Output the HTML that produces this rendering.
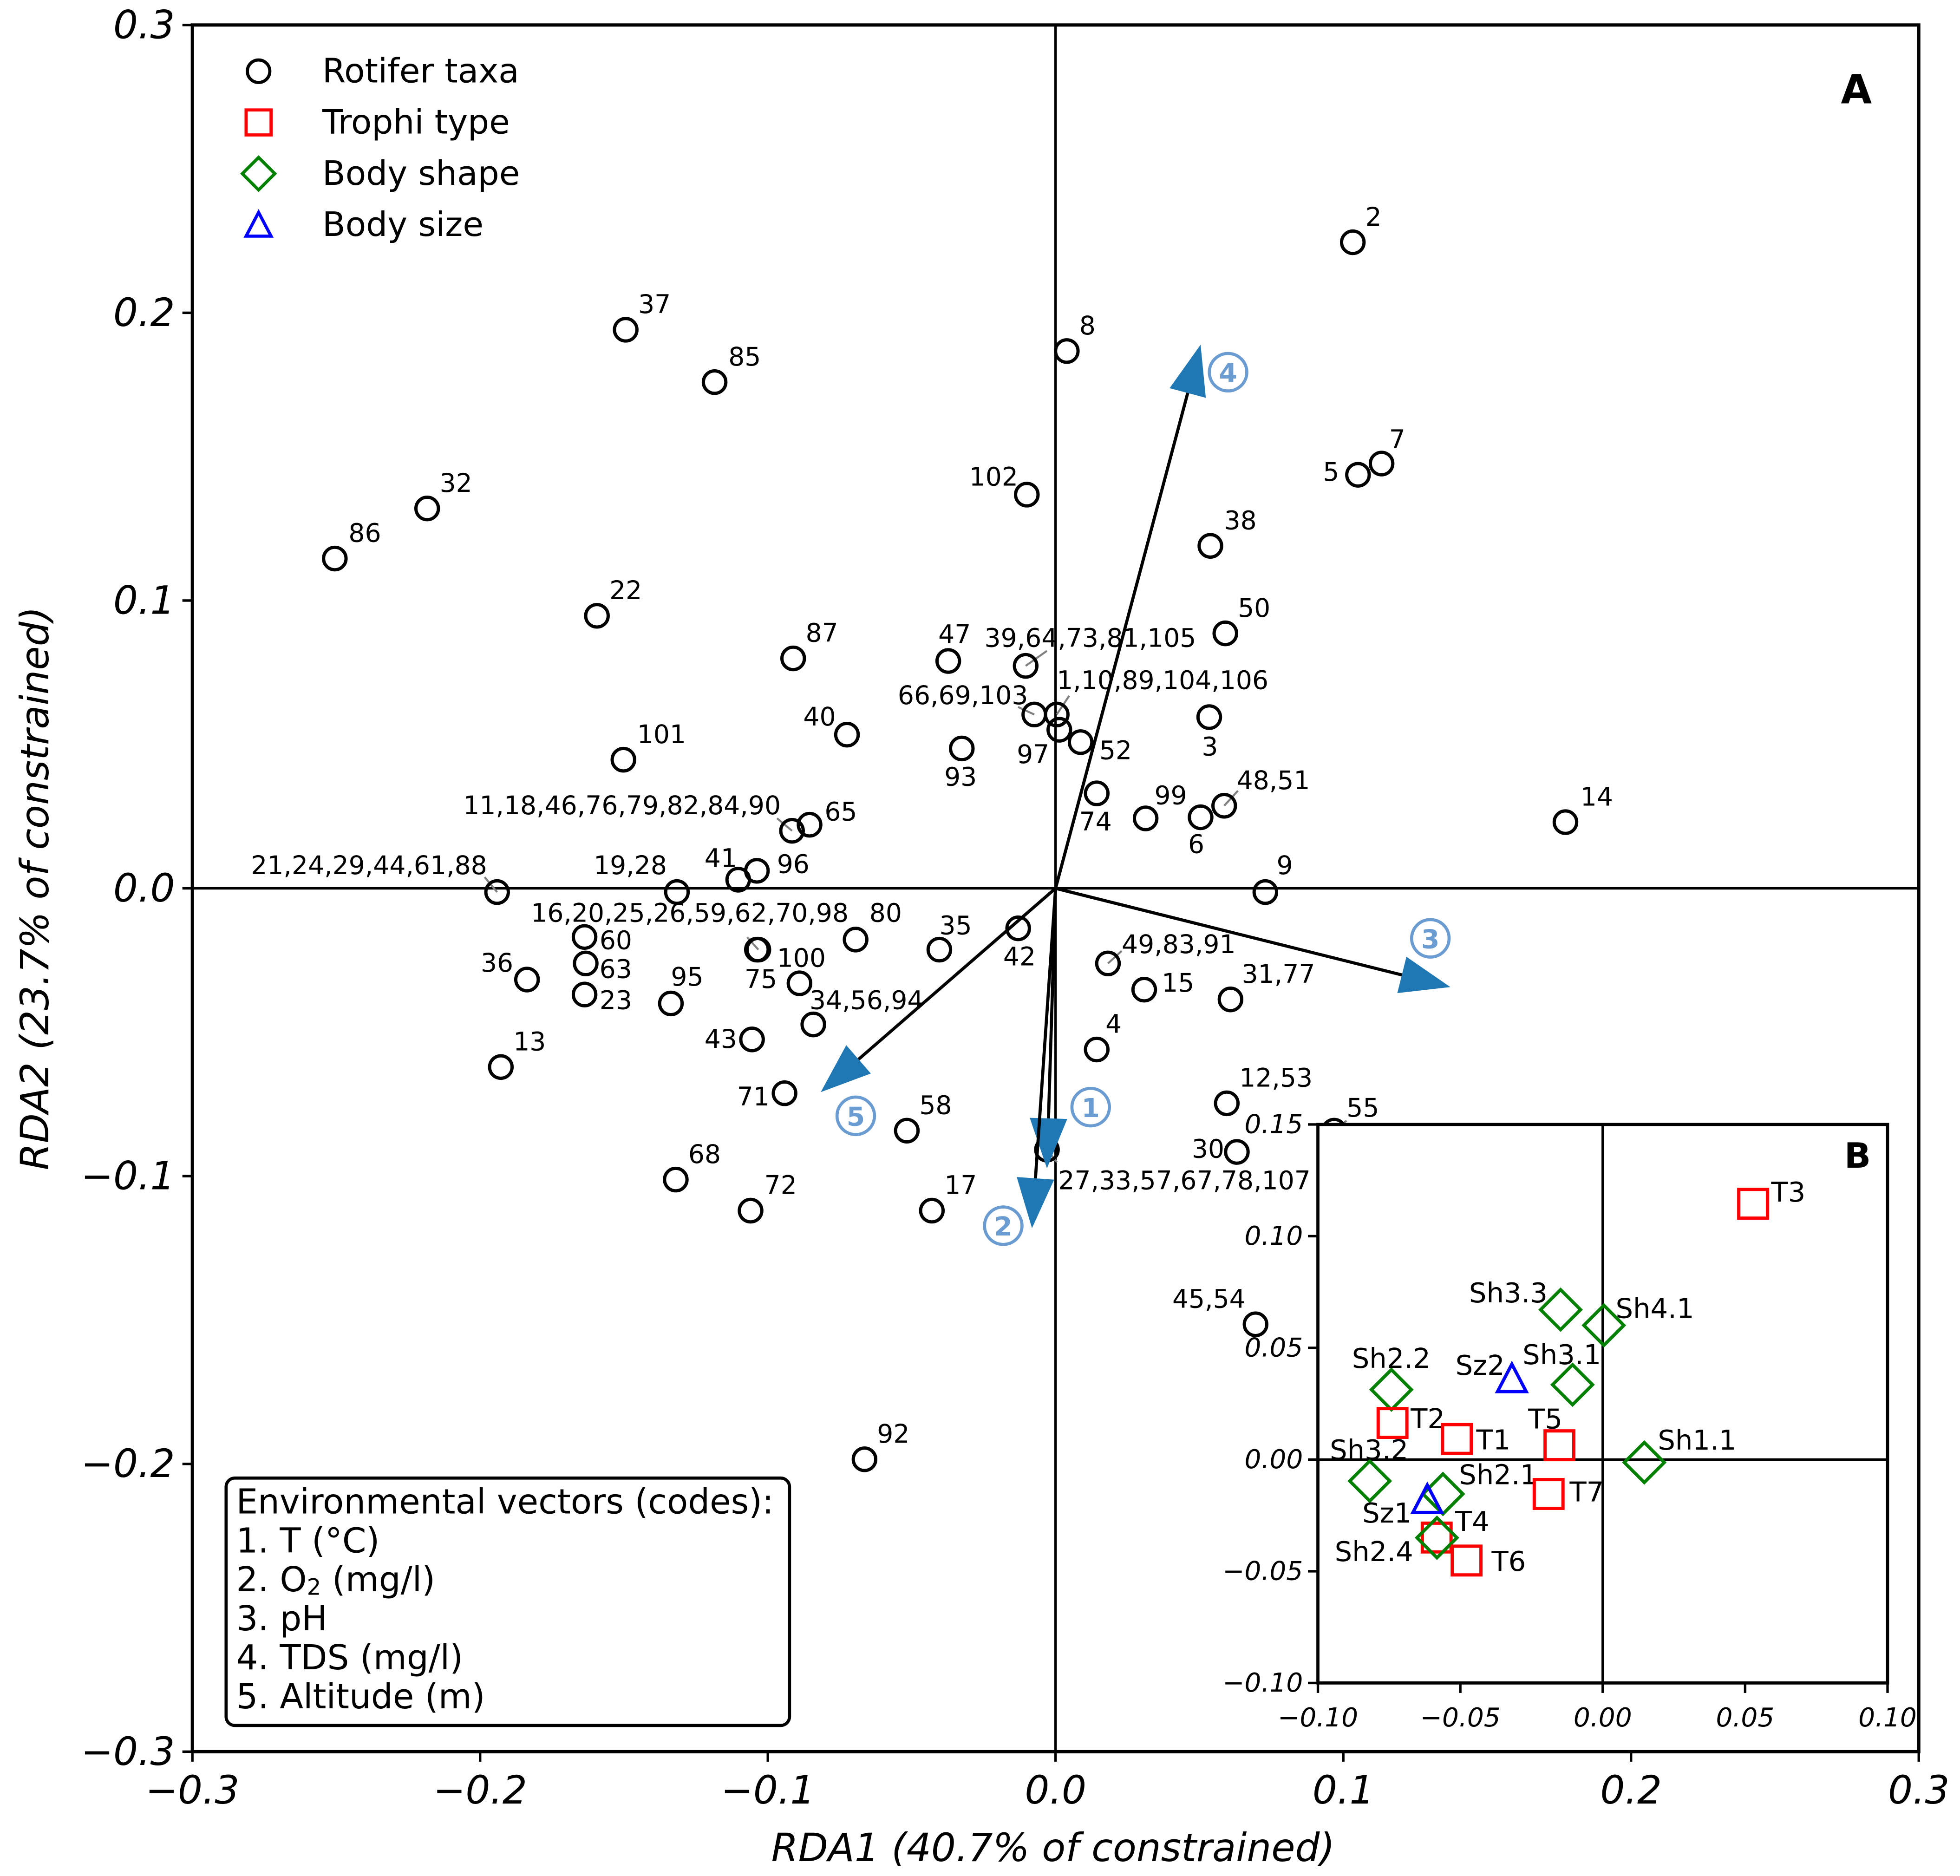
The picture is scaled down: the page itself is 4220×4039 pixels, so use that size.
<!DOCTYPE html>
<html><head><meta charset="utf-8"><style>
html,body{margin:0;padding:0;background:#fff}
svg{display:block}
text{font-family:"DejaVu Sans","Liberation Sans",sans-serif}
</style></head><body>
<svg id="chart" xmlns="http://www.w3.org/2000/svg" width="4220" height="4039" viewBox="0 0 1569 1501.5" preserveAspectRatio="none">
<rect x="0" y="0" width="1569" height="1502" fill="#fff"/>
<g id="main"></g>
<g id="inset"></g>
</svg>
<script>
// ---- main plot data ----
const taxaLabels=["2","37","85","8","7","5","102","32","38","86","22","50","87","47","39,64,73,81,105","66,69,103","1,10,89,104,106","3","40","97","93","52","101","74","99","6","48,51","14","65","11,18,46,76,79,82,84,90","96","41","19,28","21,24,29,44,61,88","9","42","80","16,20,25,26,59,62,70,98","60","100","35","63","49,83,91","36","75","23","15","31,77","95","34,56,94","43","4","13","12,53","71","58","55","27,33,57,67,78,107","30","68","72","17","45,54","92"];
const taxaX=[0.1033,-0.1494,-0.1185,0.0039,0.1133,0.1051,-0.0100,-0.2184,0.0538,-0.2505,-0.1594,0.0590,-0.0912,-0.0373,-0.0104,-0.0074,0.0004,0.0534,-0.0725,0.0013,-0.0326,0.0087,-0.1502,0.0143,0.0313,0.0504,0.0586,0.1772,-0.0855,-0.0916,-0.1038,-0.1103,-0.1316,-0.1941,0.0729,-0.0130,-0.0695,-0.1033,-0.1637,-0.1038,-0.0404,-0.1633,0.0182,-0.1837,-0.0890,-0.1637,0.0308,0.0608,-0.1337,-0.0842,-0.1055,0.0143,-0.1928,0.0595,-0.0942,-0.0517,0.0968,-0.0030,0.0630,-0.1320,-0.1060,-0.0430,0.0695,-0.0664];
const taxaY=[0.2245,0.1941,0.1759,0.1867,0.1476,0.1437,0.1368,0.1320,0.1190,0.1146,0.0947,0.0886,0.0799,0.0790,0.0773,0.0604,0.0604,0.0595,0.0534,0.0551,0.0486,0.0508,0.0447,0.0330,0.0243,0.0247,0.0287,0.0230,0.0221,0.0200,0.0061,0.0030,-0.0013,-0.0013,-0.0013,-0.0139,-0.0178,-0.0213,-0.0169,-0.0213,-0.0213,-0.0261,-0.0261,-0.0317,-0.0330,-0.0369,-0.0352,-0.0386,-0.0400,-0.0473,-0.0525,-0.0560,-0.0621,-0.0747,-0.0712,-0.0842,-0.0842,-0.0908,-0.0916,-0.1012,-0.1120,-0.1120,-0.1515,-0.1984];
const xTicks=[-0.3,-0.2,-0.1,0.0,0.1,0.2,0.3];
const yTicks=[-0.3,-0.2,-0.1,0.0,0.1,0.2,0.3];
const xTickLabels=["\u22120.3","\u22120.2","\u22120.1","0.0","0.1","0.2","0.3"];
const yTickLabels=["\u22120.3","\u22120.2","\u22120.1","0.0","0.1","0.2","0.3"];
const vecIds=["1","2","3","4","5"];
const vecX=[-0.0030,-0.0082,0.1372,0.0504,-0.0816];
const vecY=[-0.0973,-0.1181,-0.0343,0.1889,-0.0708];
// ---- inset data ----
const insLabels=["T3","Sh3.3","Sh4.1","Sz2","Sh3.1","Sh2.2","T2","T1","T5","Sh1.1","Sh3.2","Sh2.1","Sz1","T7","T4","Sh2.4","T6"];
const insTypes=["t","s","s","z","s","s","t","t","t","s","s","s","z","t","t","s","t"];
const insX=[0.0528,-0.0148,0.0004,-0.0319,-0.0106,-0.0742,-0.0738,-0.0512,-0.0152,0.0146,-0.0818,-0.0561,-0.0616,-0.0190,-0.0583,-0.0582,-0.0478];
const insY=[0.1145,0.0671,0.0601,0.0360,0.0335,0.0313,0.0164,0.0092,0.0064,-0.0013,-0.0096,-0.0154,-0.0181,-0.0154,-0.0349,-0.0350,-0.0452];
const insXTicks=[-0.10,-0.05,0.00,0.05,0.10];
const insYTicks=[-0.10,-0.05,0.00,0.05,0.10,0.15];
const insXTickLabels=["\u22120.10","\u22120.05","0.00","0.05","0.10"];
const insYTickLabels=["\u22120.10","\u22120.05","0.00","0.05","0.10","0.15"];

// ---- layout (not data) ----
const labOff=[[10,-20],[10,-20],[11,-20],[10,-20],[6,-19],[-15,-2,'e'],[-7,-14,'e'],[10,-20],[11,-20],[11,-20],[10,-20],[10,-20],[10,-20],[-8,-21],[-33,-22],[-5,-15,'e'],[0,-27],[-6,24],[-35,-14],[-8,20,'e'],[-14,23],[15,7],[11,-20],[-14,23],[7,-18],[-10,22],[10,-20],[12,-20],[12,-10],[-9,-20,'e'],[16,-5],[-27,-17],[-8,-21,'e'],[-8,-21,'e'],[9,-21],[-12,23],[11,-21],[-182,-29],[12,3],[16,7],[0,-19],[11,5],[11,-15],[-11,-13,'e'],[-44,-3],[12,5],[14,-5],[9,-20],[0,-21],[-3,-19],[-12,0,'e'],[7,-20],[10,-20],[10,-20],[-12,3,'e'],[10,-20],[10,-18],[9,25],[-10,-2,'e'],[10,-20],[11,-20],[10,-20],[-8,-20,'e'],[10,-20]];
const leaders={"39,64,73,81,105":[17,-12],"66,69,103":[-13,-6],"1,10,89,104,106":[10,-15],"48,51":[11,-12],"11,18,46,76,79,82,84,90":[-12,-10],"21,24,29,44,61,88":[-10,-12],"16,20,25,26,59,62,70,98":[-9,-10],"49,83,91":[11,-10],"55":[10,-8],"27,33,57,67,78,107":[8,10]};
const vecLabOff=[[35,-49],[-23,-2],[-16,-39],[22,22],[28,19]];
const insOff=[[14.5,-9.4],[-10.4,-13.5,'e'],[9.4,-13.5],[-5.7,-11,'e'],[-40,-24],[-31.6,-25],[14.5,-3.4],[15.5,0.7],[-25,-21],[10.8,-18],[-32,-25],[12.8,-15.5],[-12.5,10.4,'e'],[16.8,-1.7],[14.8,-13],[-19,11,'e'],[20,0.7]];

const NS="http://www.w3.org/2000/svg";
function mk(tag,attrs,parent,txt){const e=document.createElementNS(NS,tag);for(const k in attrs)e.setAttribute(k,attrs[k]);if(txt!==undefined)e.textContent=txt;parent.appendChild(e);return e;}
const L=154,R=1536,T=20,B=1402;
const sx=v=>845+(v)*(R-L)/0.6;
const sy=v=>711-(v)*(B-T)/0.6;
const main=document.getElementById('main');

let e=mk('line',{x1:sx(0),x2:sx(0),y1:T,y2:B,stroke:'#000','stroke-width':2},main);


e=mk('line',{x1:L,x2:R,y1:sy(0),y2:sy(0),stroke:'#000','stroke-width':2},main);



xTicks.forEach((v,i)=>{
  mk('line',{x1:sx(v),x2:sx(v),y1:B,y2:B+8,stroke:'#000','stroke-width':2},main);
  const t=mk('text',{x:sx(v),y:B+31,'text-anchor':'middle','font-size':31,'font-style':'italic','dominant-baseline':'central'},main,xTickLabels[i]);
  
  
});
yTicks.forEach((v,i)=>{
  mk('line',{x1:L-8,x2:L,y1:sy(v),y2:sy(v),stroke:'#000','stroke-width':2},main);
  const t=mk('text',{x:L-14,y:sy(v),'text-anchor':'end','font-size':31,'font-style':'italic','dominant-baseline':'central'},main,yTickLabels[i]);
  
  
});
e=mk('text',{x:843,y:1479,'text-anchor':'middle','font-size':31,'font-style':'italic','dominant-baseline':'central'},main,'RDA1 (40.7% of constrained)');


e=mk('text',{x:28,y:711,'text-anchor':'middle','font-size':31,'font-style':'italic','dominant-baseline':'central',transform:'rotate(-90 28 711)'},main,'RDA2 (23.7% of constrained)');



taxaLabels.forEach((lab,i)=>{
  const px=sx(taxaX[i]),py=sy(taxaY[i]);
  if(leaders[lab]){const l=leaders[lab];const ln=mk('line',{x1:px,y1:py,x2:px+l[0],y2:py+l[1],stroke:'#808080','stroke-width':1.6},main);
    
    }
});
taxaLabels.forEach((lab,i)=>{
  const px=sx(taxaX[i]),py=sy(taxaY[i]);
  const c=mk('circle',{cx:px,cy:py,r:9,fill:'none',stroke:'#000','stroke-width':2.6},main);
  
  
  const o=labOff[i];
  const t=mk('text',{x:px+o[0],y:py+o[1],'text-anchor':o[2]==='e'?'end':'start','font-size':20.5,'dominant-baseline':'central'},main,lab);
  
  
});

vecIds.forEach((id,i)=>{
  const x0=sx(0),y0=sy(0),x1=sx(vecX[i]),y1=sy(vecY[i]);
  const dx=x1-x0,dy=y1-y0,len=Math.hypot(dx,dy),ux=dx/len,uy=dy/len;
  const hl=40,hw=15;
  const bx=x1-ux*hl,by=y1-uy*hl;
  const g=mk('g',{},main);
  
  
  mk('line',{x1:x0,y1:y0,x2:bx,y2:by,stroke:'#000','stroke-width':2.5},g);
  mk('polygon',{points:`${x1},${y1} ${bx-uy*hw},${by+ux*hw} ${bx+uy*hw},${by-ux*hw}`,fill:'#1f77b4'},g);
  const lo=vecLabOff[i];const lx=x1+lo[0],ly=y1+lo[1];
  mk('circle',{cx:lx,cy:ly,r:15,fill:'#fff',stroke:'#6a9bd1','stroke-width':2.5},g);
  mk('text',{x:lx,y:ly+1,'text-anchor':'middle','dominant-baseline':'central','font-size':21,fill:'#6a9bd1','font-weight':'bold'},g,id);
});

e=mk('rect',{x:L,y:T,width:R-L,height:B-T,fill:'none',stroke:'#000','stroke-width':2.6},main);


e=mk('text',{x:1486,y:72,'text-anchor':'middle','dominant-baseline':'central','font-size':32,'font-weight':'bold'},main,'A');



const lg=mk('g',{},main);


const legNames=['Rotifer taxa','Trophi type','Body shape','Body size'];
legNames.forEach((n,i)=>{
  const y=57+i*41, x=207;
  const g=mk('g',{},lg);
  
  
  if(i===0)mk('circle',{cx:x,cy:y,r:9,fill:'none',stroke:'#000','stroke-width':2.5},g);
  if(i===1)mk('rect',{x:x-10,y:y-10,width:20,height:20,fill:'none',stroke:'#f00','stroke-width':2.5},g);
  if(i===2)mk('polygon',{points:`${x},${y-13} ${x+13},${y} ${x},${y+13} ${x-13},${y}`,fill:'none',stroke:'#008000','stroke-width':2.5},g);
  if(i===3)mk('polygon',{points:`${x},${y-10} ${x+10},${y+9} ${x-10},${y+9}`,fill:'none',stroke:'#00f','stroke-width':2.5},g);
  mk('text',{x:258,y:y,'dominant-baseline':'central','font-size':27},g,n);
});

const eb=mk('g',{},main);


mk('rect',{x:181,y:1183,width:451,height:198,rx:7,fill:'#fff',stroke:'#000','stroke-width':2.5},eb);
const ebl=['Environmental vectors (codes):','1. T (\u00b0C)',null,'3. pH','4. TDS (mg/l)','5. Altitude (m)'];
ebl.forEach((s,i)=>{
  const y=1202+i*31.2;
  if(s===null){const t=mk('text',{x:189,y:y,'dominant-baseline':'central','font-size':27.5},eb);
    t.innerHTML='2. O<tspan font-size="18" dy="6">2</tspan><tspan dy="-6"> (mg/l)</tspan>';}
  else mk('text',{x:189,y:y,'dominant-baseline':'central','font-size':27.5},eb,s);
});

const ins=document.getElementById('inset');
const IL=1055,IR=1511,IT=900,IB=1347;
const ix=v=>IL+(v+0.1)*(IR-IL)/0.2;
const iy=v=>IB-(v+0.1)*(IB-IT)/0.25;
e=mk('rect',{x:IL,y:IT,width:IR-IL,height:IB-IT,fill:'#fff'},ins);


mk('line',{x1:ix(0),x2:ix(0),y1:IT,y2:IB,stroke:'#000','stroke-width':2},ins);
mk('line',{x1:IL,x2:IR,y1:iy(0),y2:iy(0),stroke:'#000','stroke-width':2},ins);
insXTicks.forEach((v,i)=>{
  mk('line',{x1:ix(v),x2:ix(v),y1:IB,y2:IB+8,stroke:'#000','stroke-width':2},ins);
  const t=mk('text',{x:ix(v),y:IB+28,'text-anchor':'middle','dominant-baseline':'central','font-size':21,'font-style':'italic'},ins,insXTickLabels[i]);
  
  
});
insYTicks.forEach((v,i)=>{
  mk('line',{x1:IL-8,x2:IL,y1:iy(v),y2:iy(v),stroke:'#000','stroke-width':2},ins);
  const t=mk('text',{x:IL-12,y:iy(v),'text-anchor':'end','dominant-baseline':'central','font-size':21,'font-style':'italic'},ins,insYTickLabels[i]);
  
  
});
insLabels.forEach((lab,i)=>{
  const x=ix(insX[i]),y=iy(insY[i]);const ty=insTypes[i];let m;
  if(ty==='t')m=mk('rect',{x:x-11.5,y:y-11.5,width:23,height:23,fill:'none',stroke:'#f00','stroke-width':2.6},ins);
  else if(ty==='s')m=mk('polygon',{points:`${x},${y-16} ${x+16},${y} ${x},${y+16} ${x-16},${y}`,fill:'none',stroke:'#008000','stroke-width':2.6},ins);
  else m=mk('polygon',{points:`${x},${y-12} ${x+11.5},${y+10} ${x-11.5},${y+10}`,fill:'none',stroke:'#00f','stroke-width':2.6},ins);
  
  
  const o=insOff[i];
  const t=mk('text',{x:x+o[0],y:y+o[1],'text-anchor':o[2]==='e'?'end':'start','dominant-baseline':'central','font-size':22},ins,lab);
  
  
});
e=mk('rect',{x:IL,y:IT,width:IR-IL,height:IB-IT,fill:'none',stroke:'#000','stroke-width':2.5},ins);


e=mk('text',{x:1487,y:925,'text-anchor':'middle','dominant-baseline':'central','font-size':28,'font-weight':'bold'},ins,'B');


</script>
</body></html>
